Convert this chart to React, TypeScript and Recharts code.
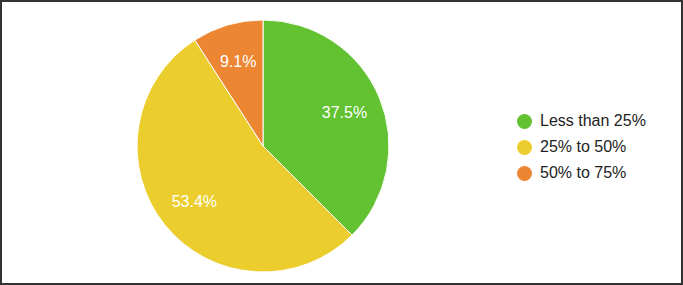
import React from "react";
import { PieChart, Pie, Cell, Legend } from "recharts";

const categories = ["Less than 25%", "25% to 50%", "50% to 75%"];
const values = [37.5, 53.4, 9.1];
const colors = ["#62c231", "#ebcd2e", "#ec8632"];

const data = categories.map((name, i) => ({ name, value: values[i] }));

const RAD = Math.PI / 180;

const renderLabel = (props: any) => {
  const { cx, cy, midAngle, outerRadius, value } = props;
  const r = outerRadius * 0.7;
  const x = cx + r * Math.cos(-midAngle * RAD);
  const y = cy + r * Math.sin(-midAngle * RAD);
  return (
    <text
      x={x}
      y={y}
      fill="#ffffff"
      textAnchor="middle"
      dominantBaseline="central"
      fontSize={16}
      fontFamily="'Liberation Sans', Arial, sans-serif"
    >
      {`${value.toFixed(1)}%`}
    </text>
  );
};

const renderLegend = () => {
  return (
    <div style={{ fontFamily: "'Liberation Sans', Arial, sans-serif" }}>
      {categories.map((name, i) => (
        <div
          key={name}
          style={{ display: "flex", alignItems: "center", height: 26 }}
        >
          <span
            style={{
              display: "inline-block",
              width: 15,
              height: 15,
              borderRadius: "50%",
              background: colors[i],
              marginRight: 8,
            }}
          />
          <span style={{ fontSize: 16, color: "#222222" }}>{name}</span>
        </div>
      ))}
    </div>
  );
};

export default function App() {
  return (
    <div
      style={{
        position: "absolute",
        left: 0,
        top: 0,
        width: 683,
        height: 285,
        boxSizing: "border-box",
        border: "2px solid #333333",
        background: "#ffffff",
      }}
    >
      <div style={{ position: "absolute", left: -2, top: -2 }}>
        <PieChart width={683} height={285}>
          <Pie
            data={data}
            dataKey="value"
            nameKey="name"
            cx={258}
            cy={141}
            outerRadius={126}
            startAngle={90}
            endAngle={-270}
            stroke="#ffffff"
            strokeWidth={1}
            label={renderLabel}
            labelLine={false}
            isAnimationActive={false}
          >
            {data.map((_, i) => (
              <Cell key={i} fill={colors[i]} />
            ))}
          </Pie>
          <Legend
            layout="vertical"
            content={renderLegend}
            wrapperStyle={{ left: 517, top: 108, width: 160 }}
          />
        </PieChart>
      </div>
    </div>
  );
}
